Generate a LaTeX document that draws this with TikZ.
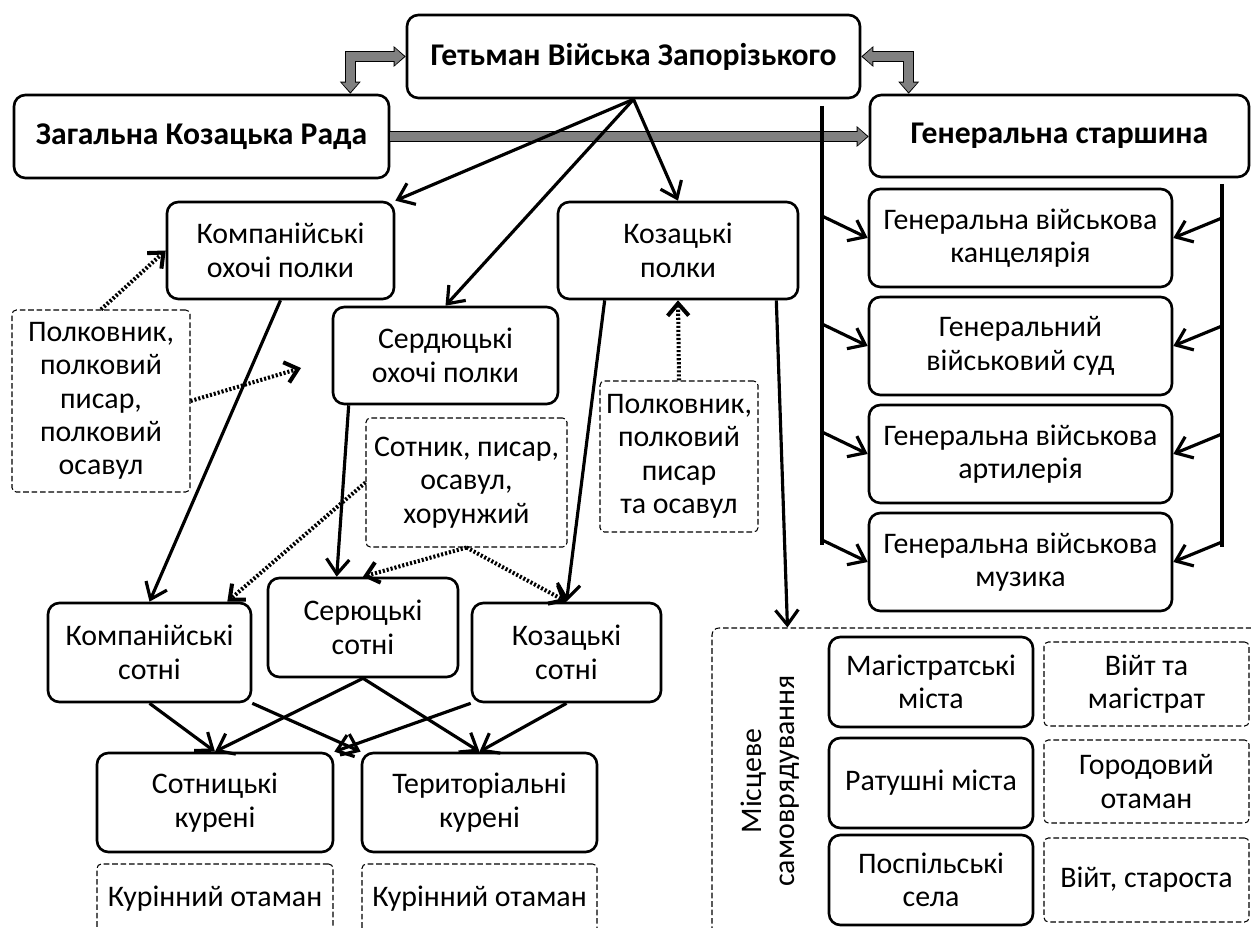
\documentclass[tikz,border=0pt]{standalone}
\usepackage{fontspec}
\setmainfont{Carlito}
\usetikzlibrary{arrows.meta,calc}
\definecolor{arrgray}{RGB}{128,128,128}

\begin{document}
\begin{tikzpicture}[x=0.02cm,y=-0.02cm,
    font=\fontsize{17}{19}\selectfont,
    sz/.style 2 args={minimum width=#1*0.02cm,minimum height=#2*0.02cm},
    unit/.style={draw,line width=1.5pt,rounded corners=6.5pt,align=center,inner sep=0pt},
    office/.style={draw,line width=0.6pt,dash pattern=on 3.2pt off 1.6pt,rounded corners=2.5pt,align=center,inner sep=0pt},
    sub/.style={line width=1.8pt,-{Straight Barb[length=8.5pt,width=13pt]}},
    hint/.style={line width=2.3pt,dash pattern=on 1.2pt off 1.1pt,-{Straight Barb[length=7pt,width=12pt]}},
    big/.style={line width=5.2pt,draw=arrgray,shorten >=0.9pt,-{Triangle[length=5.4pt,width=9.8pt,line width=0pt]},
        preaction={draw=black,line width=6.6pt,shorten >=0pt,-{Triangle[length=6.8pt,width=11.8pt,line width=0pt]}}},
    bigboth/.style={line width=5.2pt,draw=arrgray,shorten >=0.9pt,shorten <=0.9pt,
        {Triangle[length=5.4pt,width=9.8pt,line width=0pt]}-{Triangle[length=5.4pt,width=9.8pt,line width=0pt]},
        preaction={draw=black,line width=6.6pt,shorten >=0pt,shorten <=0pt,
        {Triangle[length=6.8pt,width=11.8pt,line width=0pt]}-{Triangle[length=6.8pt,width=11.8pt,line width=0pt]}}}]
    \useasboundingbox (0,0) rectangle (1251,928);

    % top level
    \node[unit,sz={453}{83},font=\fontsize{18}{20}\selectfont\bfseries] (hetman) at (633.5,56.5) {Гетьман Війська Запорізького};
    \node[unit,sz={375}{83},font=\fontsize{18}{20}\selectfont\bfseries] (rada) at (201.5,136.5) {Загальна Козацька Рада};
    \node[unit,sz={379}{82},font=\fontsize{18}{20}\selectfont\bfseries] (starsh) at (1059.5,136) {Генеральна старшина};

    % general offices
    \node[unit,sz={303}{98}] (gen1) at (1020.5,238) {Генеральна військова\\канцелярія};
    \node[unit,sz={303}{98}] (gen2) at (1020.5,346) {Генеральний\\військовий суд};
    \node[unit,sz={303}{98}] (gen3) at (1020.5,454) {Генеральна військова\\артилерія};
    \node[unit,sz={303}{98}] (gen4) at (1020.5,562) {Генеральна військова\\музика};

    % regiments
    \node[unit,sz={227}{97}] (kompoh) at (280.5,250.5) {Компанійські\\охочі полки};
    \node[unit,sz={225}{97}] (serdoh) at (445.5,355.5) {Сердюцькі\\охочі полки};
    \node[unit,sz={240}{97}] (kozpol) at (678,250.5) {Козацькі\\полки};
    \node[office,sz={178}{182}] (polk1) at (101,401) {Полковник,\\полковий\\писар,\\полковий\\осавул};
    \node[office,sz={201}{129}] (sotnik) at (466.5,482.5) {Сотник, писар,\\осавул,\\хорунжий};
    \node[office,sz={158}{151}] (polk2) at (679,456.5) {Полковник,\\полковий\\писар\\та осавул};

    % hundreds and kurins
    \node[unit,sz={203}{99}] (kompsot) at (149.5,652.5) {Компанійські\\сотні};
    \node[unit,sz={190}{99}] (sersot) at (363,627.5) {Серюцькі\\сотні};
    \node[unit,sz={189}{99}] (kozsot) at (566.5,652.5) {Козацькі\\сотні};
    \node[unit,sz={236}{99}] (sotkur) at (215,802.5) {Сотницькі\\курені};
    \node[unit,sz={235}{99}] (terkur) at (479.5,802.5) {Територіальні\\курені};
    \node[office,sz={236}{70}] (otam1) at (215,899) {Курінний отаман};
    \node[office,sz={235}{70}] (otam2) at (479.5,899) {Курінний отаман};

    % local government
    \node[office,rounded corners=4pt,sz={555}{316}] (local) at (989.5,786) {};
    \node[rotate=90,align=center] (loclab) at (770,781) {Місцеве\\самоврядування};
    \node[unit,sz={204}{90}] (magist) at (931,682) {Магістратські\\міста};
    \node[unit,sz={204}{90}] (ratush) at (931,783) {Ратушні міста};
    \node[unit,sz={204}{90}] (posp) at (931,880) {Поспільські\\села};
    \node[office,sz={205}{84}] (vijt1) at (1146.5,684) {Війт та\\магістрат};
    \node[office,sz={205}{83}] (gorod) at (1146.5,781.5) {Городовий\\отаман};
    \node[office,sz={205}{84}] (vijt2) at (1146.5,880) {Війт, староста};

    % grey links
    \draw[bigboth] (hetman.west) -| ($(rada.north east)+(-40,0)$);
    \draw[bigboth] (hetman.east) -| ($(starsh.north west)+(40,0)$);
    \draw[big] (rada.east) -- (rada.east -| starsh.west);

    % side rails
    \coordinate (lt) at (822,106);
    \coordinate (lb) at (822,545);
    \coordinate (rt) at (1222,184);
    \coordinate (rb) at (1222,547);
    \draw[line width=1.8pt] (lt) -- (lb);
    \draw[line width=1.8pt] (rt) -- (rb);
    \draw[sub] ($(gen1.west -| lt)+(0,-22)$) -- (gen1.west);
    \draw[sub] ($(gen2.west -| lt)+(0,-22)$) -- (gen2.west);
    \draw[sub] ($(gen3.west -| lt)+(0,-22)$) -- (gen3.west);
    \draw[sub] ($(gen4.west -| lt)+(0,-22)$) -- (gen4.west);
    \draw[sub] ($(gen1.east -| rt)+(0,-20)$) -- (gen1.east);
    \draw[sub] ($(gen2.east -| rt)+(0,-20)$) -- (gen2.east);
    \draw[sub] ($(gen3.east -| rt)+(0,-20)$) -- (gen3.east);
    \draw[sub] ($(gen4.east -| rt)+(0,-20)$) -- (gen4.east);

    % hetman to regiments
    \draw[sub] (hetman.south) -- (kompoh.north east);
    \draw[sub] (hetman.south) -- (serdoh.north);
    \draw[sub] (hetman.south) -- (kozpol.north);

    % regiments to hundreds
    \draw[sub] (kompoh.south) -- (kompsot.north);
    \draw[sub] ($(serdoh.south west)+(17,0)$) -- ($(sersot.north west)+(70,0)$);
    \draw[sub] ($(kozpol.south west)+(48,0)$) -- (kozsot.north);
    \draw[sub] ($(kozpol.south east)+(-23,0)$) -- ($(local.north west)+(76,0)$);

    % officers
    \coordinate (serdtip) at (301,368);
    \draw[hint] (polk1.north) -- (kompoh.west);
    \draw[hint] (polk1.east) -- (serdtip);
    \draw[hint] (polk2.north) -- (kozpol.south);
    \draw[hint] (sotnik.west) -- ($(kompsot.north east)+(-25,0)$);
    \draw[hint] (sotnik.south) -- (sersot.north);
    \draw[hint] (sotnik.south) -- (kozsot.north);

    % hundreds to kurins
    \draw[sub] (kompsot.south) -- (sotkur.north);
    \draw[sub] (kompsot.south east) -- (terkur.north west);
    \draw[sub] (sersot.south) -- (sotkur.north);
    \draw[sub] (sersot.south) -- (terkur.north);
    \draw[sub] (kozsot.south west) -- (sotkur.north east);
    \draw[sub] (kozsot.south) -- (terkur.north);
\end{tikzpicture}
\end{document}
